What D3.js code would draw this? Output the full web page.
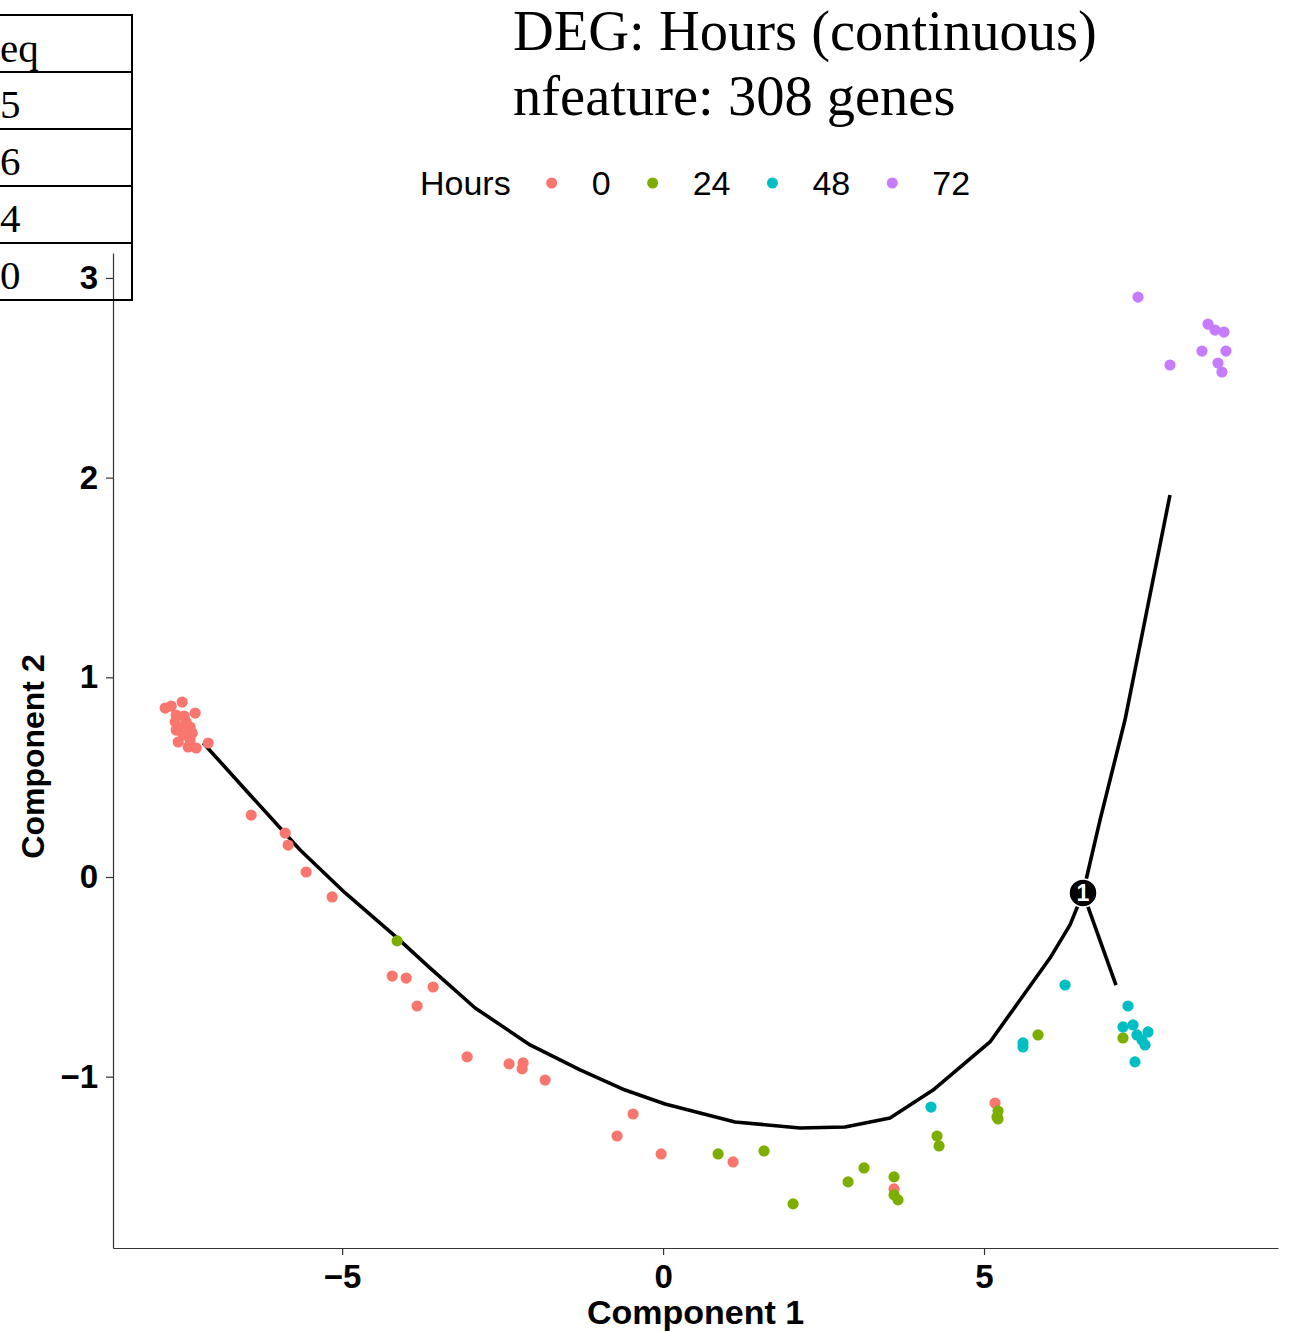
<!DOCTYPE html>
<html lang="en">
<head>
<meta charset="utf-8">
<title>DEG trajectory</title>
<script src="https://d3js.org/d3.v7.min.js"></script>
<style>
  body { margin: 0; background: #fff; }
  svg { display: block; }
</style>
</head>
<body>
<div id="chart"></div>
<script>
// ---- data ----
var hours = ["0", "24", "48", "72"];
var colors = ["#F8766D", "#7CAE00", "#00BFC4", "#C77CFF"];

var h0_x = [-7.757, -7.664, -7.492, -7.586, -7.290, -7.601, -7.430, -7.368, -7.523, -7.336, -7.477, -7.555, -7.399, -7.274, -7.087, -7.586, -7.461, -7.368,
            -6.417, -5.888, -5.841, -5.561, -5.156, -4.221, -4.003, -3.583, -3.832, -3.053, -2.399, -2.181, -2.196, -1.838, -0.467, -0.717, -0.031, 1.090, 3.598, 5.171];
var h0_y = [0.846, 0.856, 0.876, 0.811, 0.821, 0.776, 0.776, 0.751, 0.746, 0.721, 0.711, 0.676, 0.651, 0.646, 0.671, 0.736, 0.806, 0.686,
            0.310, 0.220, 0.160, 0.025, -0.100, -0.496, -0.506, -0.551, -0.646, -0.901, -0.936, -0.931, -0.961, -1.017, -1.187, -1.297, -1.387, -1.427, -1.562, -1.132];

var h24_x = [-4.143, 0.857, 1.573, 2.025, 2.882, 3.131, 3.598, 3.598, 3.660, 4.268, 4.299, 5.218, 5.202, 5.218, 5.841, 7.165];
var h24_y = [-0.320, -1.387, -1.372, -1.637, -1.527, -1.457, -1.502, -1.592, -1.617, -1.297, -1.347, -1.172, -1.202, -1.212, -0.791, -0.806];

var h48_x = [4.174, 5.607, 5.607, 6.262, 7.243, 7.165, 7.321, 7.555, 7.383, 7.461, 7.508, 7.352];
var h48_y = [-1.152, -0.831, -0.851, -0.541, -0.646, -0.751, -0.741, -0.776, -0.791, -0.816, -0.841, -0.926];

var h72_x = [7.399, 8.489, 8.598, 8.738, 8.396, 8.769, 7.897, 8.645, 8.707];
var h72_y = [2.904, 2.769, 2.739, 2.729, 2.634, 2.634, 2.564, 2.574, 2.529];

// trajectory backbone and branches
var trunk_x = [-7.165, -6.433, -5.654, -4.953, -4.143, -3.629, -2.928, -2.072, -1.293, -0.592, 0.031, 1.121, 2.134, 2.835, 3.536, 4.206, 5.093, 5.561, 6.028, 6.340, 6.542];
var trunk_y = [0.671, 0.411, 0.135, -0.080, -0.305, -0.456, -0.656, -0.841, -0.966, -1.067, -1.137, -1.227, -1.257, -1.252, -1.207, -1.067, -0.826, -0.616, -0.406, -0.240, -0.080];
var upper_x = [6.542, 6.807, 7.196, 7.508, 7.897];
var upper_y = [-0.080, 0.285, 0.786, 1.287, 1.913];
var lower_x = [6.542, 7.056];
var lower_y = [-0.080, -0.541];
var branch = {x: 6.542, y: -0.080, label: "1"};

var xTicks = [-5, 0, 5];
var yTicks = [-1, 0, 1, 2, 3];

var titleLines = ["DEG: Hours (continuous)", "nfeature: 308 genes"];
var tableCells = ["eq", "5", "6", "4", "0"];

// ---- layout ----
var width = 1293, height = 1332;
var plot = {left: 113, right: 1278, top: 253, bottom: 1248};

var svg = d3.select("#chart").append("svg")
  .attr("width", width)
  .attr("height", height);

var xScale = d3.scaleLinear()
  .domain([-8.57, 9.58])
  .range([plot.left, plot.right]);

var yScale = d3.scaleLinear()
  .domain([-1.858, 3.125])
  .range([plot.bottom, plot.top]);

// axes
var fmt = function(d) { return d < 0 ? "\u2212" + Math.abs(d) : String(d); };

var xAxis = svg.append("g")
  .attr("transform", "translate(0," + plot.bottom + ")")
  .call(d3.axisBottom(xScale).tickValues(xTicks).tickSize(7).tickSizeOuter(0).tickPadding(7).tickFormat(fmt));

var yAxis = svg.append("g")
  .attr("transform", "translate(" + plot.left + ",0)")
  .call(d3.axisLeft(yScale).tickValues(yTicks).tickSize(7).tickSizeOuter(0).tickPadding(8).tickFormat(fmt));

[xAxis, yAxis].forEach(function(ax) {
  ax.select(".domain").attr("stroke", "#333").attr("stroke-width", 1.2)
  ax.selectAll(".tick line").attr("stroke", "#333").attr("stroke-width", 1.2)
  ax.selectAll(".tick text")
    .attr("fill", "#000")
    .style("font-family", "'Liberation Sans', Arial, sans-serif")
    .style("font-weight", "bold")
    .style("font-size", "33px");
});
xAxis.selectAll(".tick text").attr("dy", "0.8em");

svg.append("text")
  .attr("x", (plot.left + plot.right) / 2)
  .attr("y", 1324)
  .attr("text-anchor", "middle")
  .style("font-family", "'Liberation Sans', Arial, sans-serif")
  .style("font-weight", "bold")
  .style("font-size", "34px")
  .text("Component 1");

svg.append("text")
  .attr("transform", "translate(44," + ((plot.top + plot.bottom) / 2 + 6) + ") rotate(-90)")
  .attr("text-anchor", "middle")
  .style("font-family", "'Liberation Sans', Arial, sans-serif")
  .style("font-weight", "bold")
  .style("font-size", "32px")
  .text("Component 2");

// trajectory
var line = d3.line().x(d => xScale(d[0])).y(d => yScale(d[1]));
[[trunk_x, trunk_y], [upper_x, upper_y], [lower_x, lower_y]].forEach(function(p) {
  svg.append("path")
    .datum(d3.zip(p[0], p[1]))
    .attr("d", line)
    .attr("fill", "none")
    .attr("stroke", "#000")
    .attr("stroke-width", 3.6)
    .attr("stroke-linejoin", "round");
});

// cells
var groups = [[h0_x, h0_y], [h24_x, h24_y], [h48_x, h48_y], [h72_x, h72_y]];
groups.forEach(function(g, i) {
  svg.append("g").selectAll("circle")
    .data(d3.zip(g[0], g[1]))
    .enter()
    .append("circle")
    .attr("cx", d => xScale(d[0]))
    .attr("cy", d => yScale(d[1]))
    .attr("r", 5.6)
    .attr("fill", colors[i]);
});

// branch point
svg.append("circle")
  .attr("cx", xScale(branch.x))
  .attr("cy", yScale(branch.y))
  .attr("r", 14)
  .attr("fill", "#000")
  .attr("stroke", "#fff")
  .attr("stroke-width", 1.5);
svg.append("text")
  .attr("x", xScale(branch.x))
  .attr("y", yScale(branch.y))
  .attr("dy", "0.36em")
  .attr("text-anchor", "middle")
  .attr("fill", "#fff")
  .style("font-family", "'Liberation Sans', Arial, sans-serif")
  .style("font-weight", "bold")
  .style("font-size", "23px")
  .text(branch.label);

// title
svg.selectAll("text.title")
  .data(titleLines)
  .enter()
  .append("text")
  .attr("class", "title")
  .attr("x", 513)
  .attr("y", (d, i) => 50 + i * 65)
  .style("font-family", "'Liberation Serif', 'Times New Roman', serif")
  .style("font-size", "56.5px")
  .text(d => d);

// legend
var legend = svg.append("g");
var lx = 420, ly = 183;
var title = legend.append("text")
  .attr("x", lx).attr("y", ly).attr("dy", "0.36em")
  .style("font-family", "'Liberation Sans', Arial, sans-serif")
  .style("font-size", "34px")
  .text("Hours");
lx += title.node().getComputedTextLength() + 41;
hours.forEach(function(h, i) {
  legend.append("circle").attr("cx", lx).attr("cy", ly).attr("r", 5.5).attr("fill", colors[i]);
  var t = legend.append("text")
    .attr("x", lx + 40).attr("y", ly).attr("dy", "0.36em")
    .style("font-family", "'Liberation Sans', Arial, sans-serif")
    .style("font-size", "34px")
    .text(h);
  lx += 40 + t.node().getComputedTextLength() + 42;
});

// table fragment at top-left (drawn over the plot)
var rowTop = 15, rowH = 57, tableRight = 132;
var table = svg.append("g");
d3.range(tableCells.length + 1).forEach(function(i) {
  table.append("line")
    .attr("x1", 0).attr("x2", tableRight + 1)
    .attr("y1", rowTop + i * rowH).attr("y2", rowTop + i * rowH)
    .attr("stroke", "#000").attr("stroke-width", 2);
});
table.append("line")
  .attr("x1", tableRight).attr("x2", tableRight)
  .attr("y1", rowTop).attr("y2", rowTop + tableCells.length * rowH)
  .attr("stroke", "#000").attr("stroke-width", 2);
table.selectAll("text")
  .data(tableCells)
  .enter()
  .append("text")
  .attr("x", 0)
  .attr("y", (d, i) => rowTop + i * rowH + (i === 0 ? 47 : 46))
  .style("font-family", "'Liberation Serif', 'Times New Roman', serif")
  .style("font-size", "41px")
  .text(d => d);
</script>
</body>
</html>
